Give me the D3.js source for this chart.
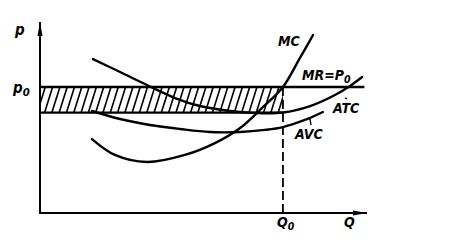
<!DOCTYPE html>
<html>
<head>
<meta charset="utf-8">
<script src="https://cdn.jsdelivr.net/npm/d3@7"></script>
<style>
  html, body { margin: 0; padding: 0; background: #fff; }
  svg { display: block; }
  text { font-family: "Liberation Sans Narrow", "DejaVu Sans Condensed", "Liberation Sans", sans-serif; font-style: italic; font-weight: bold; fill: #000; }
</style>
</head>
<body>
<script>
// ---- data (Q and p in arbitrary units) ----
const mcQ   = [15.9, 22.9, 32.7, 44.3, 53.5, 61.2, 67.9, 74.3, 79.5, 83.5];
const mcP   = [38.7, 30.4, 26.7, 30.4, 36.6, 44.5, 55.0, 66.0, 81.2, 93.2];
const atcQ  = [16.2, 24.5, 32.7, 41.3, 48.9, 58.1, 65.7, 74.3, 82.6, 90.2, 94.8, 98.5];
const atcP  = [80.6, 73.8, 67.0, 60.2, 56.0, 53.4, 52.4, 52.6, 56.0, 61.8, 66.5, 71.2];
const avcQ  = [15.9, 24.5, 33.6, 42.8, 52.0, 61.2, 68.8, 74.3, 81.0, 86.5];
const avcP  = [53.4, 49.2, 46.1, 44.0, 42.4, 42.4, 43.5, 45.0, 48.7, 52.9];
const P0 = 66.0;          // price level  MR = P0
const Q0 = 74.3;          // output where MC = MR
const atcAtQ0 = 52.6;     // ATC at Q0 (bottom of hatched rectangle)
const priceLineEnd = 99.2;
const labels = { mc: "MC", mr: "MR=P", atc: "ATC", avc: "AVC", p: "p", q: "Q" };

const W = 463, H = 241;
const svg = d3.select("body").append("svg").attr("width", W).attr("height", H);

const x = d3.scaleLinear().domain([0, 100]).range([40, 367]);
const y = d3.scaleLinear().domain([0, 100]).range([213, 22]);

const line = d3.line().x(d => x(d[0])).y(d => y(d[1])).curve(d3.curveCatmullRom.alpha(0.5));
const zip = (a, b) => a.map((v, i) => [v, b[i]]);

// ---- hatched rectangle ----
const rx0 = x(0), rx1 = x(Q0), ry0 = y(P0), ry1 = y(atcAtQ0);
svg.append("clipPath").attr("id", "rc").append("rect")
  .attr("x", rx0).attr("y", ry0).attr("width", rx1 - rx0).attr("height", ry1 - ry0);
const hatch = svg.append("g").attr("clip-path", "url(#rc)");
const hh = ry1 - ry0, slant = 8;
for (let hx = rx0 - 10; hx < rx1 + 10; hx += 7.3) {
  hatch.append("line").attr("x1", hx).attr("y1", ry1).attr("x2", hx + slant).attr("y2", ry0)
    .attr("stroke", "#000").attr("stroke-width", 1.6);
}
// rectangle bottom edge
svg.append("line").attr("x1", rx0).attr("x2", rx1).attr("y1", ry1).attr("y2", ry1)
  .attr("stroke", "#000").attr("stroke-width", 2.2);
// price line MR = P0
svg.append("line").attr("x1", x(0)).attr("x2", x(priceLineEnd)).attr("y1", y(P0)).attr("y2", y(P0))
  .attr("stroke", "#000").attr("stroke-width", 2.6);

// dashed line at Q0
svg.append("line").attr("x1", x(Q0)).attr("x2", x(Q0)).attr("y1", y(P0)).attr("y2", y(0))
  .attr("stroke", "#000").attr("stroke-width", 1.8).attr("stroke-dasharray", "9,4");

// ---- curves ----
[[mcQ, mcP], [atcQ, atcP], [avcQ, avcP]].forEach(([q, p]) => {
  svg.append("path").attr("d", line(zip(q, p))).attr("fill", "none")
    .attr("stroke", "#000").attr("stroke-width", 2.4).attr("stroke-linecap", "round");
});

// ---- axes ----
svg.append("line").attr("x1", x(0)).attr("x2", x(0)).attr("y1", y(0) + 1).attr("y2", y(100))
  .attr("stroke", "#000").attr("stroke-width", 2);
svg.append("line").attr("x1", x(0) - 1).attr("x2", x(100)).attr("y1", y(0)).attr("y2", y(0))
  .attr("stroke", "#000").attr("stroke-width", 2);
// arrowheads
svg.append("path").attr("d", `M${x(0)},${y(100)} L${x(0) - 2.5},${y(100) + 14} L${x(0) + 2.5},${y(100) + 14} Z`).attr("fill", "#000");
svg.append("path").attr("d", `M${x(100)},${y(0)} L${x(100) - 14},${y(0) - 2.5} L${x(100) - 14},${y(0) + 2.5} Z`).attr("fill", "#000");

// label leader ticks
svg.append("line").attr("x1", 345).attr("y1", y(atcP[9]) + 3).attr("x2", 347).attr("y2", 99)
  .attr("stroke", "#000").attr("stroke-width", 1.4);
svg.append("line").attr("x1", 310).attr("y1", 119).attr("x2", 311).attr("y2", 125)
  .attr("stroke", "#000").attr("stroke-width", 1.4);

// ---- text ----
function sub(t, px, py, main, s, size) {
  const tx = svg.append("text").attr("x", px).attr("y", py).attr("font-size", size);
  tx.append("tspan").text(main);
  if (s) tx.append("tspan").attr("dy", 3).attr("font-size", size * 0.75).text(s);
  return tx;
}
sub(svg, 15, 35, labels.p, null, 15);
sub(svg, 13, 93, labels.p, "0", 15);
sub(svg, 278, 46, labels.mc, null, 14);
sub(svg, 302, 80, labels.mr, "0", 14);
sub(svg, 333, 113, labels.atc, null, 14);
sub(svg, 295, 139, labels.avc, null, 14);
sub(svg, 277, 227, labels.q, "0", 14);
sub(svg, 344, 227, labels.q, null, 14);
</script>
</body>
</html>
